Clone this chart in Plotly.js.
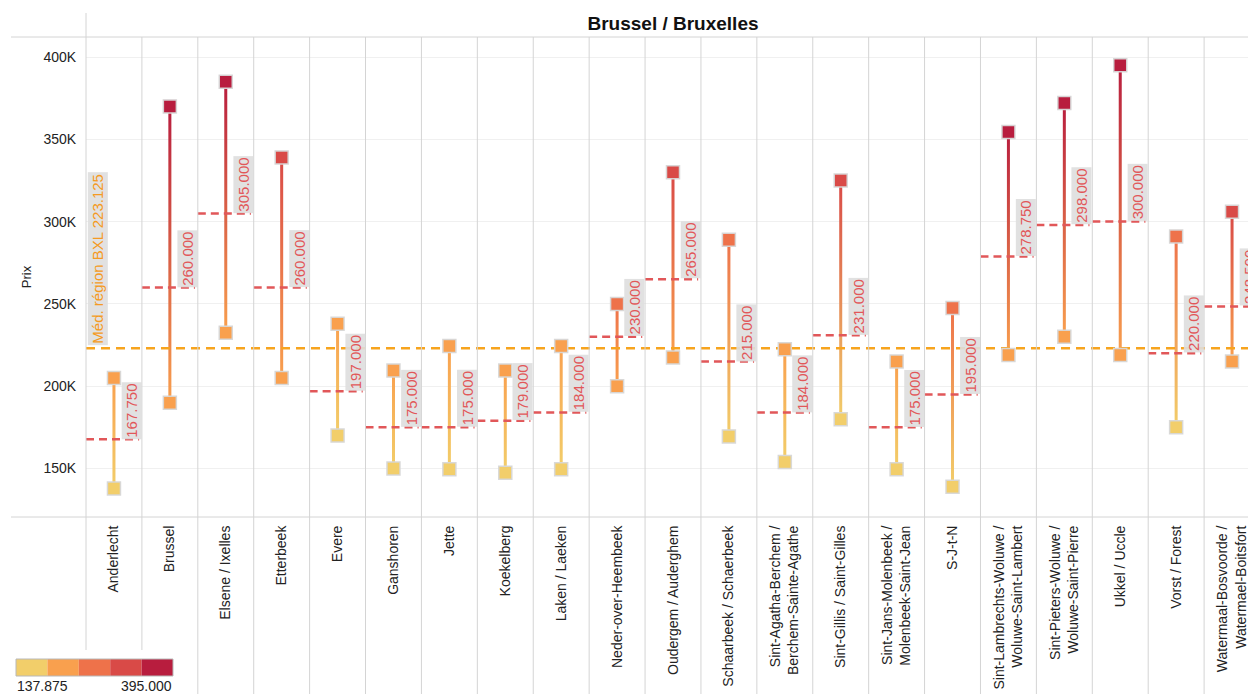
<!DOCTYPE html>
<html>
<head>
<meta charset="utf-8">
<script src="https://cdn.plot.ly/plotly-3.0.1.min.js"></script>
<style>
  html, body { margin: 0; padding: 0; background: #ffffff; overflow: hidden; }
  #chart { width: 1262px; height: 694px; }
</style>
</head>
<body>
<div id="chart"></div>
<script>
// Communes of the Brussels region
const communes = [
  'Anderlecht', 'Brussel', 'Elsene / Ixelles', 'Etterbeek', 'Evere', 'Ganshoren',
  'Jette', 'Koekelberg', 'Laken / Laeken', 'Neder-over-Heembeek', 'Oudergem / Auderghem',
  'Schaarbeek / Schaerbeek', 'Sint-Agatha-Berchem /<br>Berchem-Sainte-Agathe',
  'Sint-Gillis / Saint-Gilles', 'Sint-Jans-Molenbeek /<br>Molenbeek-Saint-Jean', 'S-J-t-N',
  'Sint-Lambrechts-Woluwe /<br>Woluwe-Saint-Lambert', 'Sint-Pieters-Woluwe /<br>Woluwe-Saint-Pierre',
  'Ukkel / Uccle', 'Vorst / Forest', 'Watermaal-Bosvoorde /<br>Watermael-Boitsfort'
];

// Lowest and highest price per commune
const prixMin = [137875, 190000, 232500, 205000, 170000, 150000, 149500, 147500, 149500, 200000, 217500,
                 169500, 154000, 180000, 149500, 139000, 219000, 230000, 219000, 175000, 215000];
const prixMax = [205000, 370000, 385000, 339000, 238000, 209500, 224500, 209500, 224500, 250000, 330000,
                 289000, 222500, 325000, 215000, 247500, 354500, 372000, 395000, 291000, 306000];
// Median price per commune
const prixMed = [167750, 260000, 305000, 260000, 197000, 175000, 175000, 179000, 184000, 230000, 265000,
                 215000, 184000, 231000, 175000, 195000, 278750, 298000, 300000, 220000, 248500];
// Median of the whole region
const medRegion = 223125;

// Value axis ticks
const yTicks = [150000, 200000, 250000, 300000, 350000, 400000];

// Five-step colour scale
const palette = ['#F2CE6A', '#F9A04E', '#EE724A', '#D94A47', '#B81D3E'];

const FONT = 'Liberation Sans, Arial, sans-serif';
const RED = '#E15759';
const ORANGE = '#F7A41E';

const n = communes.length;
const idx = communes.map((_, i) => i);
const scaleLo = Math.min(...prixMin);
const scaleHi = Math.max(...prixMax);

function colourFor(v) {
  const k = Math.floor((v - scaleLo) / (scaleHi - scaleLo) * palette.length);
  return palette[Math.max(0, Math.min(palette.length - 1, k))];
}
function fmt(v) {
  return Math.round(v).toString().replace(/\B(?=(\d{3})+(?!\d))/g, '.');
}

// Plot geometry (pixels)
const W = 1262, H = 694;
const M = { l: 86, r: 2, t: 37, b: 177 };
const plotW = W - M.l - M.r;
const plotH = H - M.t - M.b;
const px2x = p => (p - M.l) / plotW;
const px2y = p => (H - M.b - p) / plotH;

const traces = [];

// Stems: thin filled bars with a vertical colour gradient from low to high
const half = 0.027;
idx.forEach(i => {
  traces.push({
    type: 'scatter', mode: 'lines',
    x: [i - half, i + half, i + half, i - half, i - half],
    y: [prixMin[i], prixMin[i], prixMax[i], prixMax[i], prixMin[i]],
    fill: 'toself',
    fillcolor: colourFor(prixMax[i]),
    fillgradient: {
      type: 'vertical',
      colorscale: [[0, colourFor(prixMin[i])], [1, colourFor(prixMax[i])]]
    },
    line: { width: 0 },
    hoverinfo: 'skip', showlegend: false
  });
});

// Median of each commune as a dashed segment
const medX = [], medY = [];
idx.forEach(i => { medX.push(i - 0.5, i + 0.45, null); medY.push(prixMed[i], prixMed[i], null); });
traces.push({
  type: 'scatter', mode: 'lines', x: medX, y: medY,
  line: { color: RED, width: 2.5, dash: '8px,5px' },
  hoverinfo: 'skip', showlegend: false
});

// Regional median across the whole chart
traces.push({
  type: 'scatter', mode: 'lines', x: [-0.5, n - 0.5], y: [medRegion, medRegion],
  line: { color: ORANGE, width: 2.5, dash: '9px,6px' },
  hoverinfo: 'skip', showlegend: false
});

// Low and high markers
traces.push({
  type: 'scatter', mode: 'markers',
  x: idx.concat(idx),
  y: prixMin.concat(prixMax),
  marker: {
    symbol: 'square', size: 13,
    color: prixMin.concat(prixMax).map(colourFor),
    line: { color: 'rgba(215,215,215,0.95)', width: 1.5 }
  },
  hovertemplate: '%{y:,}<extra></extra>', showlegend: false
});

// Cell borders
const shapes = [];
const lineCol = '#d4d4d4';
for (let k = 0; k <= n; k++) {
  const top = k === 0 ? 13 : 37;
  const bottom = k <= 1 ? 650 : H;
  shapes.push({
    type: 'line', xref: 'paper', yref: 'paper',
    x0: k / n, x1: k / n, y0: px2y(top), y1: px2y(bottom),
    line: { color: lineCol, width: 1 }, layer: 'above'
  });
}
[37, 517].forEach(p => shapes.push({
  type: 'line', xref: 'paper', yref: 'paper',
  x0: px2x(11), x1: 1, y0: px2y(p), y1: px2y(p),
  line: { color: lineCol, width: 1 }, layer: 'above'
}));

// Colour legend
const legX0 = 16, legX1 = 173, legY0 = 659, legY1 = 676;
const sw = (legX1 - legX0) / palette.length;
palette.forEach((c, j) => shapes.push({
  type: 'rect', xref: 'paper', yref: 'paper',
  x0: px2x(legX0 + j * sw), x1: px2x(legX0 + (j + 1) * sw),
  y0: px2y(legY1), y1: px2y(legY0),
  fillcolor: c, line: { width: 0 }
}));
shapes.push({
  type: 'rect', xref: 'paper', yref: 'paper',
  x0: px2x(legX0), x1: px2x(legX1), y0: px2y(legY1), y1: px2y(legY0),
  line: { color: '#b8b8b8', width: 1 }
});

// Labels
const annotations = idx.map(i => ({
  x: i, y: prixMed[i], xref: 'x', yref: 'y',
  text: fmt(prixMed[i]), textangle: -90,
  xanchor: 'center', yanchor: 'bottom', xshift: 17.5,
  showarrow: false, bgcolor: 'rgba(222,222,222,0.9)', borderpad: 1,
  font: { family: FONT, size: 15, color: RED }
}));
annotations.push({
  x: 0, y: medRegion, xref: 'paper', yref: 'y',
  text: 'Méd. région BXL ' + fmt(medRegion), textangle: -90,
  xanchor: 'left', yanchor: 'bottom', xshift: 1, yshift: 2,
  showarrow: false, bgcolor: 'rgba(222,222,222,0.9)', borderpad: 1,
  font: { family: FONT, size: 15, color: '#F59A22' }
});
annotations.push({
  x: px2x(legX0), y: px2y(677), xref: 'paper', yref: 'paper',
  text: fmt(scaleLo), xanchor: 'left', yanchor: 'top', showarrow: false, borderpad: 0,
  font: { family: FONT, size: 14, color: '#222' }
});
annotations.push({
  x: px2x(legX1), y: px2y(677), xref: 'paper', yref: 'paper',
  text: fmt(scaleHi), xanchor: 'right', yanchor: 'top', showarrow: false, borderpad: 0,
  font: { family: FONT, size: 14, color: '#222' }
});

const layout = {
  width: W, height: H,
  margin: M,
  paper_bgcolor: '#ffffff', plot_bgcolor: '#ffffff',
  font: { family: FONT, size: 14, color: '#222' },
  title: {
    text: '<b>Brussel / Bruxelles</b>',
    font: { family: FONT, size: 19, color: '#111' },
    x: 0.5, xref: 'paper', y: 1 - 23.5 / H, yref: 'container', yanchor: 'middle'
  },
  xaxis: {
    range: [-0.5, n - 0.5], tickmode: 'array', tickvals: idx, ticktext: communes,
    tickangle: -90, showgrid: false, zeroline: false, showline: false,
    ticks: 'outside', ticklen: 2, tickcolor: 'rgba(0,0,0,0)',
    tickfont: { family: FONT, size: 14, color: '#222' }, fixedrange: true
  },
  yaxis: {
    range: [120550, 412150], tickmode: 'array', tickvals: yTicks,
    ticktext: yTicks.map(v => (v / 1000) + 'K'),
    showgrid: true, gridcolor: '#f0f0f0', gridwidth: 1,
    zeroline: false, showline: false,
    ticks: 'outside', ticklen: 6, tickcolor: 'rgba(0,0,0,0)',
    tickfont: { family: FONT, size: 14, color: '#222' },
    title: { text: 'Prix', font: { family: FONT, size: 13, color: '#222' }, standoff: 8 },
    fixedrange: true
  },
  shapes: shapes,
  annotations: annotations,
  showlegend: false
};

Plotly.newPlot('chart', traces, layout, { displayModeBar: false });
</script>
</body>
</html>
